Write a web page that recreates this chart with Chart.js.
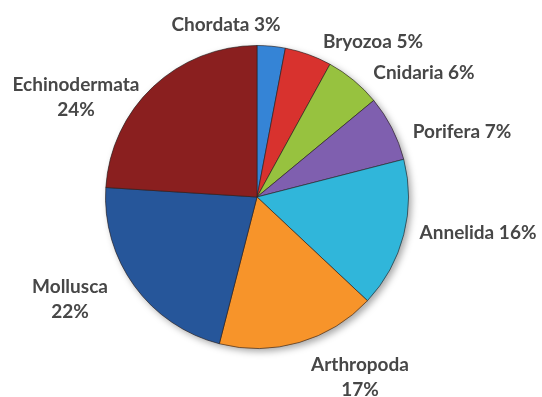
<!DOCTYPE html>
<html>
<head>
<meta charset="utf-8">
<script src="https://cdn.jsdelivr.net/npm/chart.js@4.4.1/dist/chart.umd.min.js"></script>
<style>
  html, body { margin: 0; padding: 0; background: #fff; }
  #wrap { width: 542px; height: 397px; position: relative; }
</style>
</head>
<body>
<div id="wrap"><canvas id="phylaChart" width="542" height="397"></canvas></div>
<script>
// Share of species by phylum
const phyla = ['Chordata', 'Bryozoa', 'Cnidaria', 'Porifera', 'Annelida', 'Arthropoda', 'Mollusca', 'Echinodermata'];
const shares = [3, 5, 6, 7, 16, 17, 22, 24];
const sliceColors = ['#3584d6', '#d8322e', '#97c23f', '#7f5faf', '#30b6da', '#f7942a', '#26569a', '#8a1f1f'];

// label text lines per slice, and where each label block is centred
const labelLines = [
    ['Chordata 3%'], ['Bryozoa 5%'], ['Cnidaria 6%'], ['Porifera 7%'],
    ['Annelida 16%'], ['Arthropoda', '17%'], ['Mollusca', '22%'], ['Echinodermata', '24%']
];
const labelSpots = [
    [226, 25], [373, 42], [424, 73], [462, 132],
    [478, 233], [360, 377], [70, 299], [76, 97]
];

function shade(hex, amt) {
    const n = parseInt(hex.slice(1), 16);
    const f = c => Math.max(0, Math.min(255, Math.round(c + (amt > 0 ? (255 - c) * amt : c * amt))));
    return `rgb(${f(n >> 16)}, ${f((n >> 8) & 255)}, ${f(n & 255)})`;
}

// soft bevel: flat body, darker rim toward the outer edge
function sliceFill(context) {
    const chart = context.chart;
    const arc = chart.getDatasetMeta(0).data[context.dataIndex];
    const base = sliceColors[context.dataIndex];
    if (!arc || !arc.outerRadius) return base;
    const g = chart.ctx.createRadialGradient(arc.x, arc.y, 0, arc.x, arc.y, arc.outerRadius);
    g.addColorStop(0, shade(base, 0.06));
    g.addColorStop(0.84, base);
    g.addColorStop(0.95, shade(base, -0.15));
    g.addColorStop(1, shade(base, -0.35));
    return g;
}

const pieShadow = {
    id: 'pieShadow',
    beforeDatasetsDraw(chart) {
        const arc = chart.getDatasetMeta(0).data[0];
        if (!arc) return;
        const ctx = chart.ctx;
        ctx.save();
        ctx.shadowColor = 'rgba(0, 0, 0, 0.35)';
        ctx.shadowBlur = 7;
        ctx.shadowOffsetX = 3;
        ctx.shadowOffsetY = 3;
        ctx.fillStyle = '#888';
        ctx.beginPath();
        ctx.arc(arc.x, arc.y, arc.outerRadius, 0, Math.PI * 2);
        ctx.fill();
        ctx.restore();
    }
};

const sliceLabels = {
    id: 'sliceLabels',
    afterDraw(chart) {
        const ctx = chart.ctx;
        ctx.save();
        ctx.font = 'bold 19px Lato, "Open Sans", sans-serif';
        ctx.fillStyle = '#474747';
        ctx.textAlign = 'center';
        ctx.textBaseline = 'middle';
        labelLines.forEach((lines, i) => {
            const [cx, cy] = labelSpots[i];
            const lh = 25;
            const top = cy - (lines.length - 1) * lh / 2;
            lines.forEach((t, j) => ctx.fillText(t, cx, top + j * lh));
        });
        ctx.restore();
    }
};

const ctx = document.getElementById('phylaChart');
new Chart(ctx, {
    type: 'pie',
    data: {
        labels: phyla,
        datasets: [{
            data: shares,
            backgroundColor: sliceFill,
            borderColor: 'rgba(40, 30, 30, 0.6)',
            borderWidth: 1
        }]
    },
    options: {
        responsive: false,
        animation: false,
        layout: { padding: { left: 105, right: 133, top: 45, bottom: 48 } },
        plugins: {
            legend: { display: false },
            tooltip: { enabled: false }
        }
    },
    plugins: [pieShadow, sliceLabels]
});
</script>
</body>
</html>
